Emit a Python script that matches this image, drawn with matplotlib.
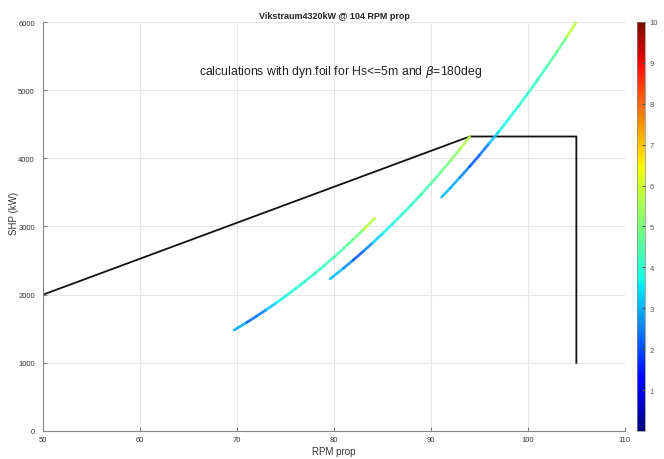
import numpy as np
import matplotlib
matplotlib.use("Agg")
import matplotlib.pyplot as plt
from matplotlib.collections import LineCollection
from matplotlib.colors import Normalize

plt.rcParams['font.family'] = ['Liberation Sans', 'DejaVu Sans']

# Data
rpm_1 = [69.7, 71, 72, 73, 74, 75, 76, 77, 78, 79, 80, 81, 82, 83, 84.2]
shp_1 = [1480, 1592, 1683, 1777, 1875, 1977, 2084, 2193, 2308, 2427, 2551, 2679, 2812, 2950, 3120]
hs_1 = [3.2, 2.6, 2.0, 2.8, 3.6, 3.8, 3.9, 4.0, 4.1, 4.2, 4.3, 4.5, 4.7, 5.0, 6.5]

rpm_2 = [79.6, 81, 82, 83, 84, 85, 86, 87, 88, 89, 90, 91, 92, 93, 94]
shp_2 = [2230, 2390, 2509, 2633, 2761, 2894, 3033, 3174, 3321, 3473, 3631, 3794, 3963, 4136, 4320]
hs_2 = [3.2, 3.0, 2.2, 2.0, 3.0, 3.6, 3.8, 3.9, 4.0, 4.2, 4.4, 4.7, 5.0, 5.3, 6.0]

rpm_3 = [91.1, 92, 93, 94, 95, 96, 97, 98, 99, 100, 101, 102, 103, 104, 105]
shp_3 = [3430, 3565, 3721, 3881, 4046, 4217, 4392, 4573, 4760, 4952, 5151, 5354, 5564, 5780, 6000]
hs_3 = [3.2, 3.0, 2.8, 2.2, 2.0, 2.8, 3.6, 3.8, 3.9, 4.0, 4.1, 4.3, 4.6, 5.0, 6.5]

limit_rpm = [50, 94, 105, 105]
limit_shp = [2000, 4320, 4320, 1000]

xticks = [50, 60, 70, 80, 90, 100, 110]
yticks = [0, 1000, 2000, 3000, 4000, 5000, 6000]
cticks = [1, 2, 3, 4, 5, 6, 7, 8, 9, 10]

fig = plt.figure(figsize=(6.64, 4.60), dpi=100)
ax = fig.add_axes([0.065, 0.061, 0.876, 0.889])
cax = fig.add_axes([0.959, 0.061, 0.012, 0.889])

norm = Normalize(vmin=0, vmax=10)
cmap = plt.get_cmap('jet')

ax.plot(limit_rpm, limit_shp, color='#111111', lw=1.3, zorder=2)

for r, s, h in [(rpm_1, shp_1, hs_1), (rpm_2, shp_2, hs_2), (rpm_3, shp_3, hs_3)]:
    pts = np.column_stack([r, s]).reshape(-1, 1, 2)
    segs = np.concatenate([pts[:-1], pts[1:]], axis=1)
    h = np.asarray(h)
    lc = LineCollection(segs, cmap=cmap, norm=norm, linewidths=2.0, capstyle='round',
                        alpha=0.85, zorder=3)
    lc.set_array((h[:-1] + h[1:]) / 2)
    ax.add_collection(lc)

ax.set_xlim(50, 110)
ax.set_ylim(0, 6000)
ax.set_xticks(xticks)
ax.set_yticks(yticks)
ax.grid(True, color='#e6e6e6', lw=0.8)
ax.set_axisbelow(True)
for side in ['top', 'right']:
    ax.spines[side].set_visible(False)
for side in ['left', 'bottom']:
    ax.spines[side].set_color('#888888')
    ax.spines[side].set_linewidth(0.8)
ax.tick_params(direction='in', labelsize=5.5, colors='#666666', length=3, width=0.6, labelcolor='#333333')
ax.tick_params(axis='y', pad=6)

ax.set_title('Vikstraum4320kW @ 104 RPM prop', fontsize=6.5, fontweight='bold', pad=3, color='#222222')
ax.set_xlabel('RPM prop', fontsize=7, labelpad=2, color='#333333')
ax.set_ylabel('SHP (kW)', fontsize=7, color='#333333')
ax.yaxis.set_label_coords(-0.041, 0.535)

ax.text(66.1, 5280, r'calculations with dyn.foil for Hs<=5m and $\beta$=180deg',
        fontsize=8.8, va='center', ha='left', color='#222222')

sm = plt.cm.ScalarMappable(norm=norm, cmap=cmap)
cb = fig.colorbar(sm, cax=cax, ticks=cticks)
cb.ax.tick_params(labelsize=5.5, length=2, direction='in', colors='#555555')
cb.outline.set_linewidth(0.5)
cb.outline.set_edgecolor('#888888')

fig.savefig('out.png', dpi=100)
